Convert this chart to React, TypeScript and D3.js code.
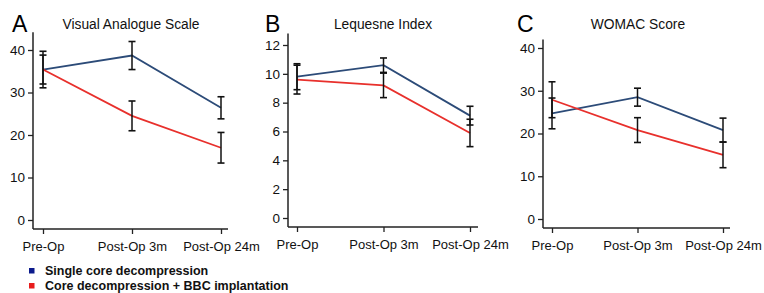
import React, { useEffect, useRef } from "react";
import * as d3 from "d3";

// time points on the x axis
const timepoints = ["Pre-Op", "Post-Op 3m", "Post-Op 24m"];

// A - Visual Analogue Scale (mean, error)
const vasSingle = [35.4, 38.7, 26.4];
const vasSingleErr = [4.3, 3.3, 2.6];
const vasBbc = [35.4, 24.5, 17.0];
const vasBbcErr = [3.4, 3.5, 3.6];
const vasTicks = [0, 10, 20, 30, 40];

// B - Lequesne Index
const lqSingle = [9.8, 10.6, 7.1];
const lqSingleErr = [0.9, 0.5, 0.65];
const lqBbc = [9.6, 9.2, 5.9];
const lqBbcErr = [1.0, 0.85, 0.95];
const lqTicks = [0, 2, 4, 6, 8, 10, 12];

// C - WOMAC Score
const womacSingle = [24.7, 28.5, 20.8];
const womacSingleErr = [3.6, 2.1, 2.8];
const womacBbc = [27.9, 20.8, 15.0];
const womacBbcErr = [4.2, 2.9, 3.0];
const womacTicks = [0, 10, 20, 30, 40];

const seriesNames = ["Single core decompression", "Core decompression + BBC implantation"];
const lineColors = ["#2c4b78", "#e8302c"];
const legendColors = ["#0b1a8c", "#e81c1c"];

const panels = [
  { letter: "A", title: "Visual Analogue Scale", single: vasSingle, singleErr: vasSingleErr, bbc: vasBbc, bbcErr: vasBbcErr, ticks: vasTicks, axisTop: 44.2, left: 33, right: 228, xFirst: 43, xLast: 221, y0: 220, yTopTick: 50, base: 229, letterX: 12, titleX: 131 },
  { letter: "B", title: "Lequesne Index", single: lqSingle, singleErr: lqSingleErr, bbc: lqBbc, bbcErr: lqBbcErr, ticks: lqTicks, axisTop: 12.8, left: 288, right: 478, xFirst: 297, xLast: 470, y0: 218, yTopTick: 45, base: 227, letterX: 265, titleX: 383 },
  { letter: "C", title: "WOMAC Score", single: womacSingle, singleErr: womacSingleErr, bbc: womacBbc, bbcErr: womacBbcErr, ticks: womacTicks, axisTop: 42, left: 543, right: 730, xFirst: 552, xLast: 723, y0: 219, yTopTick: 48, base: 228, letterX: 517, titleX: 638 },
];

function App() {
  const svgRef = useRef(null);

  useEffect(() => {
    const svg = d3.select(svgRef.current);
    svg.selectAll("*").remove();
    const font = "Arial, 'Liberation Sans', sans-serif";

    panels.forEach((p) => {
      const g = svg.append("g");
      const maxTick = p.ticks[p.ticks.length - 1];
      const x = d3.scalePoint().domain(timepoints).range([p.xFirst, p.xLast]);
      const y = d3.scaleLinear().domain([0, maxTick]).range([p.y0, p.yTopTick]);

      // y axis
      const yAxis = g
        .append("g")
        .attr("transform", `translate(${p.left},0)`)
        .call(d3.axisLeft(y).tickValues(p.ticks).tickSize(5).tickSizeOuter(0).tickPadding(3));
      yAxis.select(".domain").remove();
      yAxis.selectAll("line").attr("stroke", "#222").attr("stroke-width", 1.3);
      yAxis.selectAll("text").style("font-family", font).style("font-size", "13.5px").attr("fill", "#111");
      g.append("line")
        .attr("x1", p.left).attr("x2", p.left)
        .attr("y1", y(p.axisTop)).attr("y2", p.base)
        .attr("stroke", "#222").attr("stroke-width", 1.5);

      // x axis
      const xAxis = g
        .append("g")
        .attr("transform", `translate(0,${p.base})`)
        .call(d3.axisBottom(x).tickSize(5).tickSizeOuter(0).tickPadding(8));
      xAxis.select(".domain").remove();
      xAxis.selectAll("line").attr("stroke", "#222").attr("stroke-width", 1.3);
      xAxis.selectAll("text").style("font-family", font).style("font-size", "13px").attr("fill", "#111");
      g.append("line")
        .attr("x1", p.left).attr("x2", p.right)
        .attr("y1", p.base).attr("y2", p.base)
        .attr("stroke", "#222").attr("stroke-width", 1.5);

      // lines
      const line = d3.line().x((d, i) => x(timepoints[i])).y((d) => y(d));
      [p.single, p.bbc].forEach((vals, si) => {
        g.append("path")
          .datum(vals)
          .attr("d", line)
          .attr("fill", "none")
          .attr("stroke", lineColors[si])
          .attr("stroke-width", 1.8);
      });

      // error bars
      [[p.single, p.singleErr], [p.bbc, p.bbcErr]].forEach(([vals, errs]) => {
        vals.forEach((v, i) => {
          const cx = x(timepoints[i]);
          const lo = y(v - errs[i]);
          const hi = y(v + errs[i]);
          g.append("line").attr("x1", cx).attr("x2", cx).attr("y1", lo).attr("y2", hi)
            .attr("stroke", "#111").attr("stroke-width", 1.5);
          [lo, hi].forEach((yy) => {
            g.append("line").attr("x1", cx - 3.5).attr("x2", cx + 3.5).attr("y1", yy).attr("y2", yy)
              .attr("stroke", "#111").attr("stroke-width", 1.6);
          });
        });
      });

      // panel letter and title
      svg.append("text")
        .attr("x", p.letterX).attr("y", 32)
        .style("font-family", font).style("font-size", "23px")
        .text(p.letter);
      svg.append("text")
        .attr("x", p.titleX).attr("y", 28.5)
        .attr("text-anchor", "middle")
        .style("font-family", font).style("font-size", "13.8px")
        .attr("fill", "#111")
        .text(p.title);
    });

    // legend
    seriesNames.forEach((name, i) => {
      const ly = 268 + i * 15;
      svg.append("rect")
        .attr("x", 29).attr("y", ly)
        .attr("width", 5.5).attr("height", 5.5)
        .attr("fill", legendColors[i]);
      svg.append("text")
        .attr("x", 45).attr("y", ly + 7)
        .style("font-family", font).style("font-size", "12.5px").style("font-weight", "bold")
        .attr("fill", "#111")
        .text(name);
    });
  }, []);

  return (
    <div style={{ position: "absolute", left: 0, top: 0 }}>
      <svg ref={svgRef} width={764} height={293} style={{ display: "block", background: "#fff" }}></svg>
    </div>
  );
}

export default App;
